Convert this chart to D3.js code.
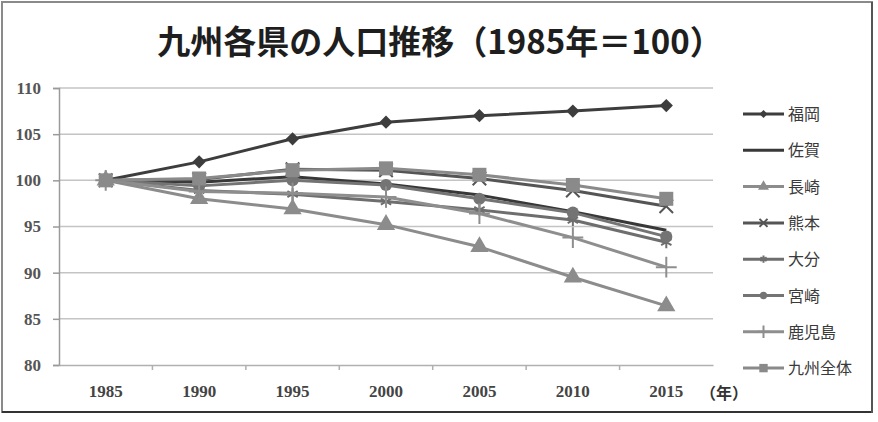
<!DOCTYPE html>
<html>
<head>
<meta charset="utf-8">
<script src="https://cdn.jsdelivr.net/npm/d3@7"></script>
<style>
  body { margin: 0; background: #fff; }
  svg { display: block; }
</style>
</head>
<body>
<div id="chart"></div>
<script>
// data, 1985 = 100
let years = [1985, 1990, 1995, 2000, 2005, 2010, 2015];
let yTicks = [80, 85, 90, 95, 100, 105, 110];
let names = ['福岡', '佐賀', '長崎', '熊本', '大分', '宮崎', '鹿児島', '九州全体'];
let fukuoka = [100, 102.0, 104.5, 106.3, 107.0, 107.5, 108.1];
let saga = [100, 99.8, 100.4, 99.6, 98.4, 96.6, 94.6];
let nagasaki = [100, 98.0, 96.9, 95.2, 92.8, 89.5, 86.4];
let kumamoto = [100, 100.1, 101.2, 101.1, 100.2, 98.9, 97.2];
let oita = [100, 98.9, 98.5, 97.7, 96.8, 95.7, 93.3];
let miyazaki = [100, 99.4, 100.0, 99.5, 98.0, 96.5, 93.9];
let kagoshima = [100, 98.8, 98.6, 98.2, 96.4, 93.8, 90.6];
let kyushu = [100, 100.2, 101.1, 101.3, 100.6, 99.5, 98.0];

let seriesValues = [fukuoka, saga, nagasaki, kumamoto, oita, miyazaki, kagoshima, kyushu];

// look of each series
let styles = [
    { color: '#3d3d3d', marker: 'diamond', size: 11 },
    { color: '#383838', marker: 'none', size: 0 },
    { color: '#8c8c8c', marker: 'triangle', size: 12 },
    { color: '#555555', marker: 'times', size: 11 },
    { color: '#6e6e6e', marker: 'star', size: 10 },
    { color: '#747474', marker: 'circle', size: 12 },
    { color: '#8e8e8e', marker: 'plus', size: 12 },
    { color: '#8a8a8a', marker: 'square', size: 14 }
];

let width = 878, height = 422;
let plot = { left: 59, right: 713, top: 88, bottom: 365 };

let svg = d3.select('#chart').append('svg')
    .attr('width', width)
    .attr('height', height);

// frame
svg.append('rect')
    .attr('x', 2).attr('y', 2)
    .attr('width', 870).attr('height', 410)
    .attr('fill', '#fff')
    .attr('stroke', '#8a8a8a')
    .attr('stroke-width', 2);
svg.append('line')
    .attr('x1', 2).attr('x2', 873).attr('y1', 412).attr('y2', 412)
    .attr('stroke', '#333').attr('stroke-width', 2);
svg.append('line')
    .attr('x1', 872).attr('x2', 872).attr('y1', 2).attr('y2', 413)
    .attr('stroke', '#555').attr('stroke-width', 2);

// title
svg.append('text')
    .attr('x', 440).attr('y', 54)
    .attr('text-anchor', 'middle')
    .attr('font-family', '"Noto Sans CJK JP", sans-serif')
    .attr('font-weight', 700)
    .attr('font-size', 33)
    .attr('fill', '#1e1e1e')
    .text('九州各県の人口推移（1985年＝100）');

let x = d3.scaleBand()
    .domain(years)
    .range([plot.left, plot.right]);

let y = d3.scaleLinear()
    .domain([80, 110])
    .range([plot.bottom, plot.top]);

let cx = d => x(d) + x.bandwidth() / 2;

// gridlines
svg.append('g')
    .selectAll('line')
    .data(yTicks.filter(d => d > 80))
    .enter()
    .append('line')
    .attr('x1', plot.left).attr('x2', plot.right)
    .attr('y1', d => y(d)).attr('y2', d => y(d))
    .attr('stroke', '#c4c4c4')
    .attr('stroke-width', 1.5);

// y axis
let yAxis = svg.append('g')
    .attr('transform', `translate(${plot.left},0)`)
    .call(d3.axisLeft(y).tickValues(yTicks).tickSize(6).tickPadding(12));
yAxis.select('.domain').attr('stroke', '#9a9a9a').attr('stroke-width', 1.5);
yAxis.selectAll('.tick line').attr('stroke', '#9a9a9a').attr('stroke-width', 1.5);
yAxis.selectAll('text')
    .attr('font-family', '"Liberation Serif", serif')
    .attr('font-size', 17)
    .attr('font-weight', 700)
    .attr('fill', '#555');

// x axis, ticks between the categories
let xAxis = svg.append('g')
    .attr('transform', `translate(0,${plot.bottom})`)
    .call(d3.axisBottom(x).tickSize(0).tickPadding(20));
xAxis.select('.domain').attr('stroke', '#b0b0b0').attr('stroke-width', 1.5);
xAxis.selectAll('text')
    .attr('font-family', '"Liberation Serif", serif')
    .attr('font-size', 17)
    .attr('font-weight', 700)
    .attr('fill', '#444');
xAxis.append('g')
    .selectAll('line')
    .data(years.slice(1))
    .enter()
    .append('line')
    .attr('x1', d => x(d)).attr('x2', d => x(d))
    .attr('y1', 0).attr('y2', 5)
    .attr('stroke', '#b0b0b0')
    .attr('stroke-width', 1.5);

svg.append('text')
    .attr('x', 724).attr('y', 399)
    .attr('text-anchor', 'middle')
    .attr('font-family', '"Noto Sans CJK JP", sans-serif')
    .attr('font-weight', 700)
    .attr('font-size', 16)
    .attr('fill', '#333')
    .text('（年）');

// markers
let symbolTypes = {
    diamond: d3.symbolSquare,
    triangle: d3.symbolTriangle,
    times: d3.symbolTimes,
    star: d3.symbolAsterisk,
    circle: d3.symbolCircle,
    plus: d3.symbolPlus,
    square: d3.symbolSquare
};
let strokeMarkers = ['times', 'star', 'plus'];

function drawMarker(g, st, px, py, scale) {
    if (st.marker == 'none') return;
    let s = st.size * scale;
    let sym = d3.symbol().type(symbolTypes[st.marker]).size(s * s * (st.marker == 'circle' ? 0.8 : 1));
    let p = g.append('path')
        .attr('d', sym())
        .attr('transform', translate(px, py) + (st.marker == 'diamond' ? ' rotate(45) scale(0.85)' : ''));
    if (strokeMarkers.includes(st.marker)) {
        p.attr('fill', 'none').attr('stroke', st.color).attr('stroke-width', 2);
    } else {
        p.attr('fill', st.color);
    }
}

function translate(a, b) {
    return `translate(${a},${b})`;
}

let line = d3.line()
    .x((d, i) => cx(years[i]))
    .y(d => y(d));

let lines = svg.append('g');
seriesValues.forEach((vals, k) => {
    let st = styles[k];
    let g = lines.append('g').attr('class', 'series');
    g.append('path')
        .attr('d', line(vals))
        .attr('fill', 'none')
        .attr('stroke', st.color)
        .attr('stroke-width', 3)
        .attr('stroke-linejoin', 'round');
    vals.forEach((v, i) => drawMarker(g, st, cx(years[i]), y(v), 1));
});

// legend
let legend = svg.append('g');
names.forEach((n, k) => {
    let st = styles[k];
    let ly = 114 + k * 36.3;
    let g = legend.append('g');
    g.append('line')
        .attr('x1', 743).attr('x2', 784)
        .attr('y1', ly).attr('y2', ly)
        .attr('stroke', st.color)
        .attr('stroke-width', 3);
    drawMarker(g, st, 763.5, ly, 0.6);
    g.append('text')
        .attr('x', 788).attr('y', ly + 6)
        .attr('font-family', '"Noto Sans CJK JP", sans-serif')
        .attr('font-size', 16)
        .attr('fill', '#3a3a3a')
        .text(n);
});
</script>
</body>
</html>
